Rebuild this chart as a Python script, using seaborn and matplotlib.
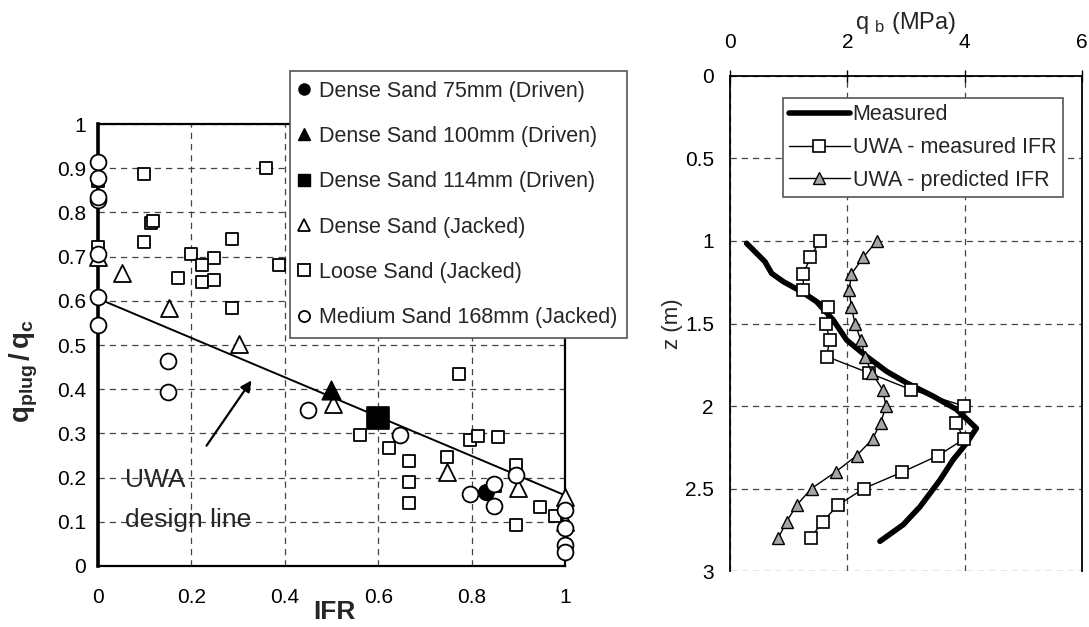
import numpy as np
import pandas as pd
import matplotlib
matplotlib.use("Agg")
import matplotlib.pyplot as plt
import seaborn as sns
from matplotlib.lines import Line2D

# ---------------- data: left panel (q_plug/q_c vs IFR) ----------------
dense75_ifr = [0.83]
dense75_q = [0.168]
dense100_ifr = [0.50]
dense100_q = [0.398]
dense114_ifr = [0.60]
dense114_q = [0.334]
denseJ_ifr = [0.0, 0.052, 0.153, 0.302, 0.504, 0.748, 0.899, 1.0, 1.0]
denseJ_q = [0.700, 0.664, 0.583, 0.502, 0.367, 0.213, 0.176, 0.155, 0.100]
looseJ_ifr = [0.0, 0.0, 0.099, 0.359, 0.113, 0.118, 0.099, 0.286, 0.200, 0.249,
              0.223, 0.387, 0.172, 0.223, 0.249, 0.286, 0.560, 0.774, 0.623, 0.665,
              0.665, 0.665, 0.747, 0.797, 0.814, 0.856, 0.896, 0.896, 0.946, 0.979,
              0.850]
looseJ_q = [0.870, 0.722, 0.887, 0.900, 0.775, 0.780, 0.734, 0.739, 0.706, 0.696,
            0.681, 0.681, 0.651, 0.642, 0.647, 0.584, 0.296, 0.434, 0.266, 0.238,
            0.189, 0.142, 0.247, 0.285, 0.295, 0.291, 0.228, 0.093, 0.133, 0.113,
            0.180]
mediumJ_ifr = [0.0, 0.0, 0.0, 0.0, 0.0, 0.0, 0.0, 0.149, 0.149, 0.450, 0.647,
               0.797, 0.847, 0.847, 0.896, 1.0, 1.0, 1.0, 1.0]
mediumJ_q = [0.915, 0.877, 0.828, 0.835, 0.706, 0.609, 0.545, 0.464, 0.393, 0.353,
             0.296, 0.164, 0.186, 0.136, 0.207, 0.127, 0.085, 0.048, 0.032]
design_ifr = [0.0, 1.0]
design_q = [0.605, 0.160]

left_xticks = [0, 0.2, 0.4, 0.6, 0.8, 1.0]
left_xlabels = ["0", "0.2", "0.4", "0.6", "0.8", "1"]
left_yticks = [0, 0.1, 0.2, 0.3, 0.4, 0.5, 0.6, 0.7, 0.8, 0.9, 1.0]
left_ylabels = ["0", "0.1", "0.2", "0.3", "0.4", "0.5", "0.6", "0.7", "0.8", "0.9", "1"]

# ---------------- data: right panel (q_b vs depth) ----------------
meas_qb = [0.284, 0.596, 0.71, 0.908, 1.221, 1.477, 1.76, 1.988, 2.33, 2.67, 3.01,
           3.46, 3.86, 4.2, 4.03, 3.80, 3.58, 3.24, 2.95, 2.556]
meas_z = [1.014, 1.125, 1.196, 1.246, 1.307, 1.368, 1.479, 1.60, 1.70, 1.79, 1.86,
          1.94, 2.02, 2.135, 2.226, 2.327, 2.448, 2.61, 2.72, 2.82]
uwa_z = [1.0, 1.1, 1.2, 1.3, 1.4, 1.5, 1.6, 1.7, 1.8, 1.9, 2.0, 2.1, 2.2, 2.3, 2.4,
         2.5, 2.6, 2.7, 2.8]
uwa_meas_qb = [1.53, 1.37, 1.25, 1.25, 1.675, 1.635, 1.70, 1.647, 2.37, 3.08, 3.99,
               3.85, 3.99, 3.55, 2.94, 2.28, 1.845, 1.58, 1.375]
uwa_pred_qb = [2.50, 2.27, 2.07, 2.03, 2.07, 2.13, 2.23, 2.30, 2.42, 2.60, 2.66,
               2.57, 2.43, 2.16, 1.80, 1.39, 1.14, 0.966, 0.824]

right_xticks = [0, 2, 4, 6]
right_xlabels = ["0", "2", "4", "6"]
right_yticks = [0, 0.5, 1.0, 1.5, 2.0, 2.5, 3.0]
right_ylabels = ["0", "0.5", "1", "1.5", "2", "2.5", "3"]

# ---------------- style ----------------
sns.set_style("white")
plt.rcParams['font.family'] = ['Liberation Sans', 'DejaVu Sans']
plt.rcParams['mathtext.fontset'] = 'custom'
plt.rcParams['mathtext.rm'] = 'Liberation Sans'
plt.rcParams['mathtext.bf'] = 'Liberation Sans:bold'
plt.rcParams['mathtext.it'] = 'Liberation Sans:italic'

fig = plt.figure(figsize=(10.89, 6.27), dpi=100)
ax1 = fig.add_axes([0.0900, 0.0973, 0.4288, 0.7049])
ax2 = fig.add_axes([0.6703, 0.0893, 0.3233, 0.7895])

grid_kw = dict(linestyle=(0, (5, 4)), color='#444444', linewidth=0.9)
TICK_FS = 15

# ---------------- left panel ----------------
open_kw = dict(color='white', edgecolor='black', linewidth=1.3, clip_on=False, zorder=4)
sns.lineplot(x=design_ifr, y=design_q, ax=ax1, color='black', linewidth=1.4, zorder=3)
sns.scatterplot(x=looseJ_ifr, y=looseJ_q, ax=ax1, marker='s', s=70, **open_kw)
sns.scatterplot(x=denseJ_ifr, y=denseJ_q, ax=ax1, marker='^', s=150, **open_kw)
sns.scatterplot(x=dense75_ifr, y=dense75_q, ax=ax1, marker='o', s=130, color='black',
                edgecolor='black', zorder=4, clip_on=False)
sns.scatterplot(x=mediumJ_ifr, y=mediumJ_q, ax=ax1, marker='o', s=130, **open_kw)
sns.scatterplot(x=dense100_ifr, y=dense100_q, ax=ax1, marker='^', s=180, color='black',
                edgecolor='black', zorder=5)
sns.scatterplot(x=dense114_ifr, y=dense114_q, ax=ax1, marker='s', s=230, color='black',
                edgecolor='black', zorder=5)

ax1.set_xlim(0, 1)
ax1.set_ylim(0, 1)
ax1.set_xticks(left_xticks)
ax1.set_xticklabels(left_xlabels)
ax1.set_yticks(left_yticks)
ax1.set_yticklabels(left_ylabels)
ax1.tick_params(axis='x', direction='inout', length=9, width=1, labelsize=TICK_FS,
                pad=11, colors='black')
ax1.tick_params(axis='y', direction='inout', length=9, width=1, labelsize=TICK_FS,
                pad=4, colors='black')
ax1.grid(True, **grid_kw)
ax1.set_axisbelow(True)
for side in ['top', 'right', 'bottom']:
    ax1.spines[side].set_linewidth(1.6)
    ax1.spines[side].set_color('black')
ax1.spines['left'].set_linewidth(2.6)
ax1.spines['left'].set_color('black')

ax1.set_xlabel('IFR', fontsize=19, fontweight='bold')
ax1.xaxis.set_label_coords(0.507, -0.078)
ax1.set_ylabel(r'$\mathbf{q_{plug}\,/\,q_c}$', fontsize=20)
ax1.yaxis.set_label_coords(-0.124, 0.44)

ax1.annotate('', xy=(0.332, 0.425), xytext=(0.229, 0.267),
             arrowprops=dict(arrowstyle='-|>', color='black', lw=1.6, mutation_scale=16))
ax1.text(0.058, 0.195, 'UWA', fontsize=19, va='center', ha='left')
ax1.text(0.058, 0.104, 'design line', fontsize=19, va='center', ha='left')

handles1 = [
    Line2D([], [], ls='none', marker='o', ms=8, mfc='black', mec='black'),
    Line2D([], [], ls='none', marker='^', ms=9, mfc='black', mec='black'),
    Line2D([], [], ls='none', marker='s', ms=8, mfc='black', mec='black'),
    Line2D([], [], ls='none', marker='^', ms=9, mfc='white', mec='black', mew=1.3),
    Line2D([], [], ls='none', marker='s', ms=8, mfc='white', mec='black', mew=1.3),
    Line2D([], [], ls='none', marker='o', ms=8, mfc='white', mec='black', mew=1.3),
]
labels1 = ['Dense Sand 75mm (Driven)', 'Dense Sand 100mm (Driven)',
           'Dense Sand 114mm (Driven)', 'Dense Sand (Jacked)',
           'Loose Sand (Jacked)', 'Medium Sand 168mm (Jacked)']
leg1 = ax1.legend(handles1, labels1, loc='upper left', bbox_to_anchor=(0.411, 1.12),
                  fontsize=15.5, frameon=True, fancybox=False, framealpha=1,
                  edgecolor='#555555', labelspacing=1.13, handlelength=0.4,
                  handletextpad=0.5, borderpad=0.45, borderaxespad=0)
leg1.get_frame().set_linewidth(1.2)
leg1.set_zorder(10)

# ---------------- right panel ----------------
sns.lineplot(x=meas_qb, y=meas_z, ax=ax2, sort=False, estimator=None, color='black',
             linewidth=4, solid_capstyle='round', label='Measured', zorder=3)
sns.lineplot(x=uwa_meas_qb, y=uwa_z, ax=ax2, sort=False, estimator=None, color='black',
             linewidth=1, marker='s', markersize=8, markerfacecolor='white',
             markeredgecolor='black', markeredgewidth=1.2, label='UWA - measured IFR',
             zorder=4)
sns.lineplot(x=uwa_pred_qb, y=uwa_z, ax=ax2, sort=False, estimator=None, color='black',
             linewidth=1, marker='^', markersize=9, markerfacecolor='#a6a6a6',
             markeredgecolor='black', markeredgewidth=1.0, label='UWA - predicted IFR',
             zorder=4)

ax2.set_xlim(0, 6)
ax2.set_ylim(3, 0)
ax2.xaxis.tick_top()
ax2.xaxis.set_label_position('top')
ax2.set_xticks(right_xticks)
ax2.set_xticklabels(right_xlabels)
ax2.set_yticks(right_yticks)
ax2.set_yticklabels(right_ylabels)
ax2.tick_params(axis='x', direction='inout', length=9, width=1, labelsize=TICK_FS, pad=13,
                top=True, bottom=False, colors='black')
ax2.tick_params(axis='y', direction='inout', length=9, width=1, labelsize=TICK_FS, pad=7,
                colors='black')
ax2.grid(True, **grid_kw)
ax2.set_axisbelow(True)
ax2.spines['bottom'].set_visible(False)
for side in ['top', 'right', 'left']:
    ax2.spines[side].set_linewidth(1.3)
    ax2.spines[side].set_color('black')
ax2.set_xlabel(r'q $_{\mathrm{b}}$ (MPa)', fontsize=17, labelpad=3)
ax2.set_ylabel('z (m)', fontsize=16)
ax2.yaxis.set_label_coords(-0.132, 0.5)

leg2 = ax2.legend(loc='upper left', bbox_to_anchor=(0.15, 0.956), fontsize=15.5,
                  frameon=True, fancybox=False, framealpha=1, edgecolor='#555555',
                  labelspacing=0.55, handlelength=2.8, handletextpad=0.15,
                  borderpad=0.3, borderaxespad=0)
leg2.get_frame().set_linewidth(1.2)

fig.savefig('out.png', dpi=100)
